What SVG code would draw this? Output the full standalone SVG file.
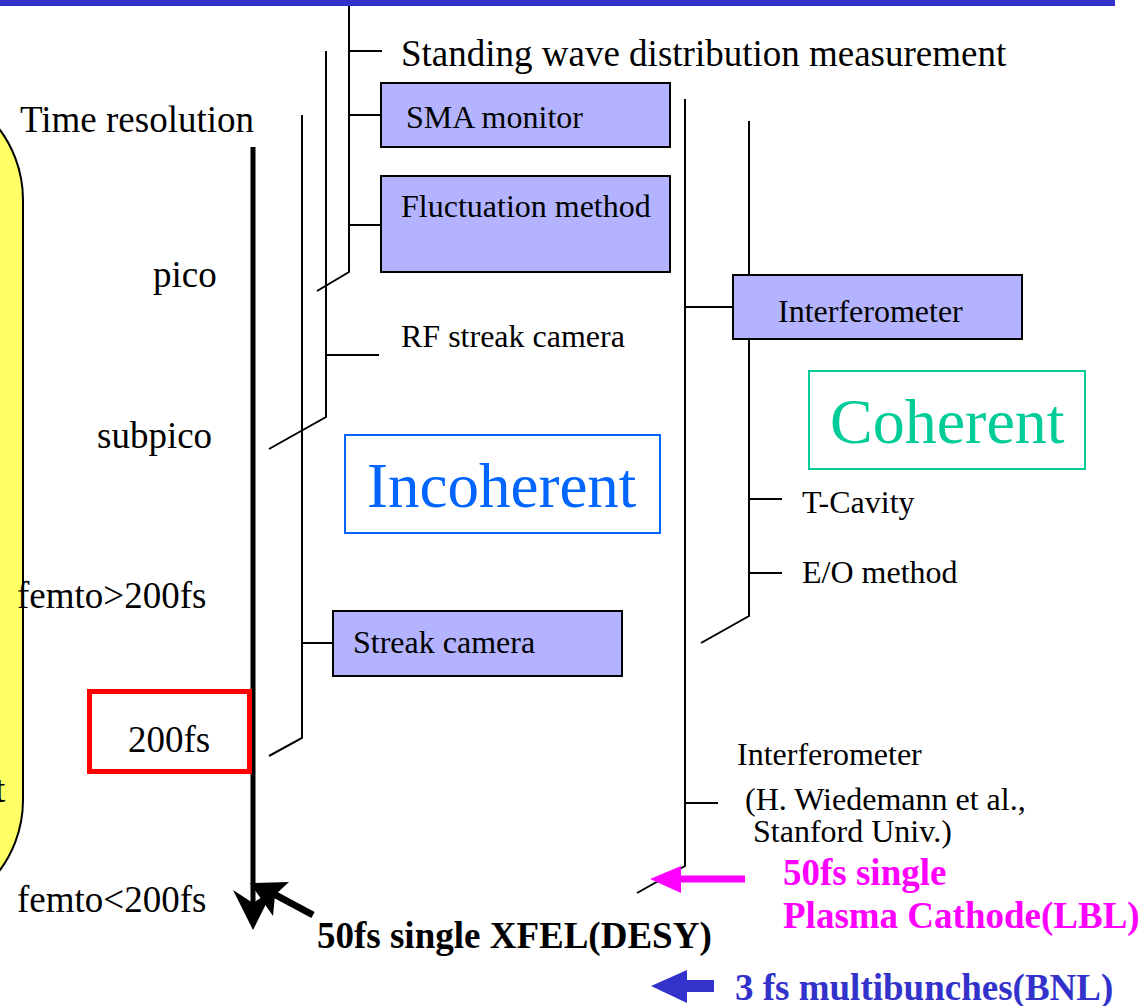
<svg xmlns="http://www.w3.org/2000/svg" width="1145" height="1006" viewBox="0 0 1145 1006">
<style>
text{font-family:"Liberation Serif","Times New Roman",serif;fill:#000}
.lg{font-size:37px}
.sm{font-size:32px}
.bd{font-size:37px;font-weight:bold}
.box{fill:#b3b3ff;stroke:#000;stroke-width:2}
.ln{fill:none;stroke:#000;stroke-width:2}
</style>
<rect x="0" y="0" width="1115" height="6" fill="#3333cc"/>
<g id="yellow-panel">
<rect x="-200" y="85" width="223" height="830" rx="115" ry="115" fill="#ffff66" stroke="#000" stroke-width="2"/>
<text class="lg" x="-5" y="802">t</text>
</g>
<g id="connectors">
<line x1="253" y1="147" x2="253" y2="905" stroke="#000" stroke-width="5"/>
<path d="M233,890 L253,930 L273,890 L253,903 Z" fill="#000"/>
<line x1="313" y1="915" x2="272" y2="893" stroke="#000" stroke-width="7"/>
<path d="M250,883 L289,882 L275,895 L273,916 Z" fill="#000"/>
<polyline class="ln" points="302,115 302,738 269,756"/>
<polyline class="ln" points="326,51 326,417 269,449"/>
<polyline class="ln" points="349,6 349,272 317,291"/>
<line class="ln" x1="349" y1="51" x2="382" y2="51"/>
<line class="ln" x1="349" y1="115" x2="381" y2="115"/>
<line class="ln" x1="349" y1="225" x2="381" y2="225"/>
<line class="ln" x1="327" y1="355" x2="379" y2="355"/>
<line class="ln" x1="302" y1="643" x2="333" y2="643"/>
<polyline class="ln" points="685,99 685,866 637,893"/>
<line class="ln" x1="685" y1="307" x2="733" y2="307"/>
<line class="ln" x1="685" y1="803" x2="718" y2="803"/>
<polyline class="ln" points="749,121 749,616 701,643"/>
<line class="ln" x1="749" y1="499" x2="782" y2="499"/>
<line class="ln" x1="749" y1="573" x2="782" y2="573"/>
<line x1="745" y1="879" x2="676" y2="879" stroke="#ff00ff" stroke-width="7"/>
<path d="M650,879 L681,866 L681,893 Z" fill="#ff00ff"/>
<rect x="684" y="980" width="30" height="12" fill="#3333cc"/>
<path d="M651,986 L687,970 L687,1003 Z" fill="#3333cc"/>
</g>
<g id="axis-labels">
<text class="lg" x="20" y="132">Time resolution</text>
<text class="lg" x="153" y="287">pico</text>
<text class="lg" x="97" y="448">subpico</text>
<text class="lg" x="17" y="608">femto&gt;200fs</text>
<text class="lg" x="17" y="912">femto&lt;200fs</text>
</g>
<g id="node-200fs">
<rect x="89.5" y="691.5" width="160" height="80" fill="none" stroke="#ff0000" stroke-width="5"/>
<text class="lg" x="128" y="752">200fs</text>
</g>
<g id="node-standing-wave">
<text class="lg" x="401" y="66">Standing wave distribution measurement</text>
</g>
<g id="node-sma">
<rect class="box" x="381" y="83" width="289" height="64"/>
<text class="sm" x="406" y="128">SMA monitor</text>
</g>
<g id="node-fluctuation">
<rect class="box" x="381" y="176" width="289" height="96"/>
<text class="sm" x="401" y="217">Fluctuation method</text>
</g>
<g id="node-rf-streak">
<text class="sm" x="401" y="347">RF streak camera</text>
</g>
<g id="node-incoherent">
<rect x="345" y="435" width="315" height="98" fill="#fff" stroke="#0066ff" stroke-width="2"/>
<text x="367" y="507" style="font-size:63px;fill:#0066ff">Incoherent</text>
</g>
<g id="node-streak">
<rect class="box" x="333" y="611" width="289" height="65"/>
<text class="sm" x="353" y="653">Streak camera</text>
</g>
<g id="node-interferometer">
<rect class="box" x="733" y="275" width="289" height="64"/>
<text class="sm" x="778" y="322">Interferometer</text>
</g>
<g id="node-coherent">
<rect x="809" y="371" width="276" height="98" fill="#fff" stroke="#00cc99" stroke-width="2"/>
<text x="830" y="443" style="font-size:64px;fill:#00cc99">Coherent</text>
</g>
<g id="node-tcavity">
<text class="sm" x="802" y="513">T-Cavity</text>
</g>
<g id="node-eo">
<text class="sm" x="802" y="583">E/O method</text>
</g>
<g id="node-interferometer-stanford">
<text class="sm" x="737" y="765">Interferometer</text>
<text class="sm" x="745" y="810">(H. Wiedemann et al.,</text>
<text class="sm" x="753" y="842">Stanford Univ.)</text>
</g>
<g id="node-xfel">
<text class="bd" x="317" y="948">50fs single XFEL(DESY)</text>
</g>
<g id="node-plasma">
<text class="bd" x="783" y="885" style="fill:#ff00ff">50fs single</text>
<text class="bd" x="783" y="928" style="fill:#ff00ff">Plasma Cathode(LBL)</text>
</g>
<g id="node-bnl">
<text class="bd" x="735" y="1000" style="fill:#3333cc">3 fs multibunches(BNL)</text>
</g>
</svg>
